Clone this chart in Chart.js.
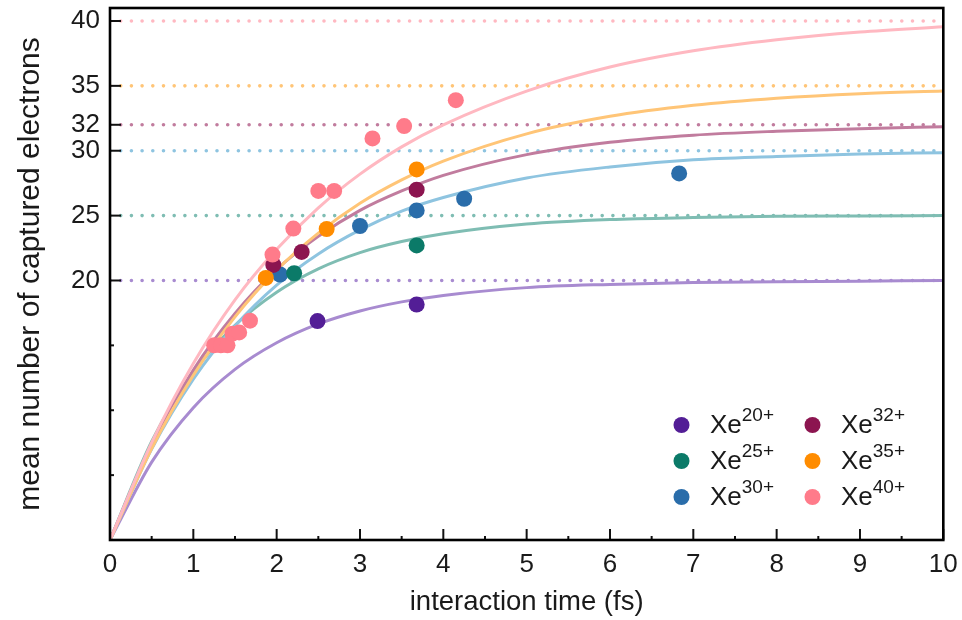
<!DOCTYPE html>
<html>
<head>
<meta charset="utf-8">
<title>captured electrons</title>
<script src="https://cdn.jsdelivr.net/npm/chart.js@4.4.1/dist/chart.umd.min.js"></script>
<style>
  body { margin: 0; background: #fff; }
  canvas { display: block; }
</style>
</head>
<body>
<canvas id="grafico" width="962" height="620"></canvas>
<script>
// ---------- data ----------
const ions = ["20+", "25+", "30+", "32+", "35+", "40+"];
const saturation = [20, 25, 30, 32, 35, 40];

// fitted curves, sampled along the time axis (fs)
const fitTimes = [0, 0.5, 1, 1.5, 2, 2.5, 3, 3.5, 4, 5, 6, 7, 8, 9, 10];
const fit20 = [0, 6.0, 10.2, 13.15, 15.2, 16.65, 17.65, 18.35, 18.85, 19.45, 19.7, 19.85, 19.9, 19.95, 20.0];
const fit25 = [0, 7.6, 12.9, 16.55, 19.1, 20.9, 22.15, 23.0, 23.6, 24.35, 24.7, 24.85, 24.95, 24.97, 25.0];
const fit30 = [0, 7.0, 12.4, 16.5, 19.65, 22.05, 23.9, 25.35, 26.4, 27.9, 28.75, 29.3, 29.55, 29.75, 29.85];
const fit32 = [0, 7.4, 13.1, 17.45, 20.85, 23.4, 25.4, 26.9, 28.1, 29.7, 30.65, 31.2, 31.5, 31.7, 31.85];
const fit35 = [0, 7.05, 12.7, 17.2, 20.8, 23.65, 25.95, 27.75, 29.2, 31.3, 32.65, 33.5, 34.05, 34.4, 34.6];
const fit40 = [0, 7.5, 13.6, 18.5, 22.4, 25.6, 28.2, 30.3, 32.0, 34.6, 36.45, 37.7, 38.55, 39.15, 39.55];

// measured points
const t20 = [2.49, 3.68];
const n20 = [16.87, 18.15];
const t25 = [2.21, 3.68];
const n25 = [20.56, 22.7];
const t30 = [2.04, 3.0, 3.68, 4.25, 6.83];
const n30 = [20.46, 24.2, 25.4, 26.3, 28.25];
const t32 = [1.96, 2.30, 3.68];
const n32 = [21.2, 22.2, 27.0];
const t35 = [1.87, 2.60, 3.68];
const n35 = [20.2, 23.97, 28.56];
const t40 = [1.25, 1.33, 1.41, 1.47, 1.55, 1.68, 1.95, 2.20, 2.50, 2.69, 3.15, 3.53, 4.15];
const n40 = [15.0, 15.0, 15.0, 15.9, 16.0, 16.9, 22.0, 24.0, 26.9, 26.9, 30.95, 31.9, 33.9];

// axis ticks
const yTickValues = [20, 25, 30, 32, 35, 40];
const yMinorTicks = [5, 10, 15];

// ---------- styles ----------
const pointColors = ["#531e96", "#0b7a68", "#2a6daa", "#8c1550", "#ff8c00", "#ff7b8a"];
const lineColors  = ["#a88bd0", "#7fbdb3", "#8ec4e0", "#c17c9e", "#ffc577", "#ffb8c1"];
const FONT = "'Liberation Sans', Arial, Helvetica, sans-serif";
const INK = "#1a1a1a";

const fits = [fit20, fit25, fit30, fit32, fit35, fit40];
const measT = [t20, t25, t30, t32, t35, t40];
const measN = [n20, n25, n30, n32, n35, n40];
// lower order is drawn on top
const pointOrder = [5, 3, 4, 2, 1, 0];

const datasets = [];
ions.forEach((ion, i) => {
    datasets.push({
        label: "Xe" + ion,
        data: measT[i].map((t, k) => ({ x: t, y: measN[i][k] })),
        showLine: false,
        pointRadius: 8,
        pointHoverRadius: 8,
        pointBackgroundColor: pointColors[i],
        pointBorderWidth: 0,
        order: pointOrder[i]
    });
    datasets.push({
        label: "fit " + ion,
        data: fitTimes.map((t, k) => ({ x: t, y: fits[i][k] })),
        borderColor: lineColors[i],
        borderWidth: 3,
        pointRadius: 0,
        cubicInterpolationMode: "monotone",
        order: 10 + (5 - i)
    });
    datasets.push({
        label: "limit " + ion,
        data: [{ x: 0, y: saturation[i] }, { x: 10, y: saturation[i] }],
        borderColor: lineColors[i],
        borderWidth: 3.6,
        borderDash: [0, 10.7],
        borderCapStyle: "round",
        pointRadius: 0,
        order: 20 + i
    });
});

// ---------- inward ticks, frame ----------
const marcas = {
    id: "marcas",
    afterDatasetsDraw(chart) {
        const { ctx, chartArea: a, scales: { x, y } } = chart;
        ctx.save();
        ctx.strokeStyle = "#111";
        ctx.lineWidth = 2;
        ctx.lineCap = "butt";
        const tick = (x1, y1, x2, y2) => {
            ctx.beginPath(); ctx.moveTo(x1, y1); ctx.lineTo(x2, y2); ctx.stroke();
        };
        x.ticks.forEach((tk, k) => {
            const px = x.getPixelForValue(tk.value);
            tick(px, a.bottom, px, a.bottom - 11);
            if (k < x.ticks.length - 1) {
                const mid = x.getPixelForValue(tk.value + 0.5);
                tick(mid, a.bottom, mid, a.bottom - 4);
            }
        });
        yTickValues.forEach(v => {
            const py = y.getPixelForValue(v);
            tick(a.left, py, a.left + 11, py);
        });
        yMinorTicks.forEach(v => {
            const py = y.getPixelForValue(v);
            tick(a.left, py, a.left + 4, py);
        });
        ctx.lineWidth = 2.6;
        ctx.strokeStyle = "#000";
        ctx.strokeRect(a.left, a.top, a.right - a.left, a.bottom - a.top);
        ctx.restore();
    }
};

// ---------- legend with superscripts ----------
const legenda = {
    id: "legenda",
    afterDraw(chart) {
        const ctx = chart.ctx;
        const cols = [681.5, 812.5];
        const rows = [433, 469, 505];
        ctx.save();
        ions.forEach((ion, i) => {
            const cx = cols[Math.floor(i / 3)];
            const base = rows[i % 3];
            ctx.fillStyle = pointColors[i];
            ctx.beginPath();
            ctx.arc(cx, base - 8, 8, 0, Math.PI * 2);
            ctx.fill();
            ctx.fillStyle = INK;
            ctx.textBaseline = "alphabetic";
            ctx.textAlign = "left";
            ctx.font = "26px " + FONT;
            ctx.fillText("Xe", cx + 28.5, base);
            const w = ctx.measureText("Xe").width;
            ctx.font = "19px " + FONT;
            ctx.fillText(ion, cx + 28.5 + w, base - 12);
        });
        ctx.restore();
    }
};

new Chart(document.getElementById("grafico"), {
    type: "line",
    data: { datasets },
    options: {
        responsive: false,
        animation: false,
        layout: { padding: { left: 0, top: 7, right: 18.7, bottom: 0 } },
        plugins: { legend: { display: false }, tooltip: { enabled: false } },
        scales: {
            x: {
                type: "linear",
                min: 0,
                max: 10,
                ticks: { stepSize: 1, color: INK, padding: 9, font: { family: FONT, size: 26 } },
                grid: { display: false, drawTicks: false },
                border: { display: false },
                title: {
                    display: true,
                    text: "interaction time (fs)",
                    color: INK,
                    font: { family: FONT, size: 27.5 },
                    padding: { top: 0, bottom: 1 }
                },
                afterFit(s) { s.height = 80; s.paddingLeft = 0; s.paddingRight = 0; }
            },
            y: {
                type: "linear",
                min: 0,
                max: 41,
                afterBuildTicks(s) { s.ticks = yTickValues.map(v => ({ value: v })); },
                ticks: { autoSkip: false, color: INK, padding: 10, font: { family: FONT, size: 26 } },
                grid: { display: false, drawTicks: false },
                border: { display: false },
                title: {
                    display: true,
                    text: "mean number of captured electrons",
                    color: INK,
                    font: { family: FONT, size: 30 },
                    padding: { top: 13, bottom: 0 }
                },
                afterFit(s) { s.width = 110; s.paddingTop = 0; s.paddingBottom = 0; }
            }
        }
    },
    plugins: [marcas, legenda]
});
</script>
</body>
</html>
